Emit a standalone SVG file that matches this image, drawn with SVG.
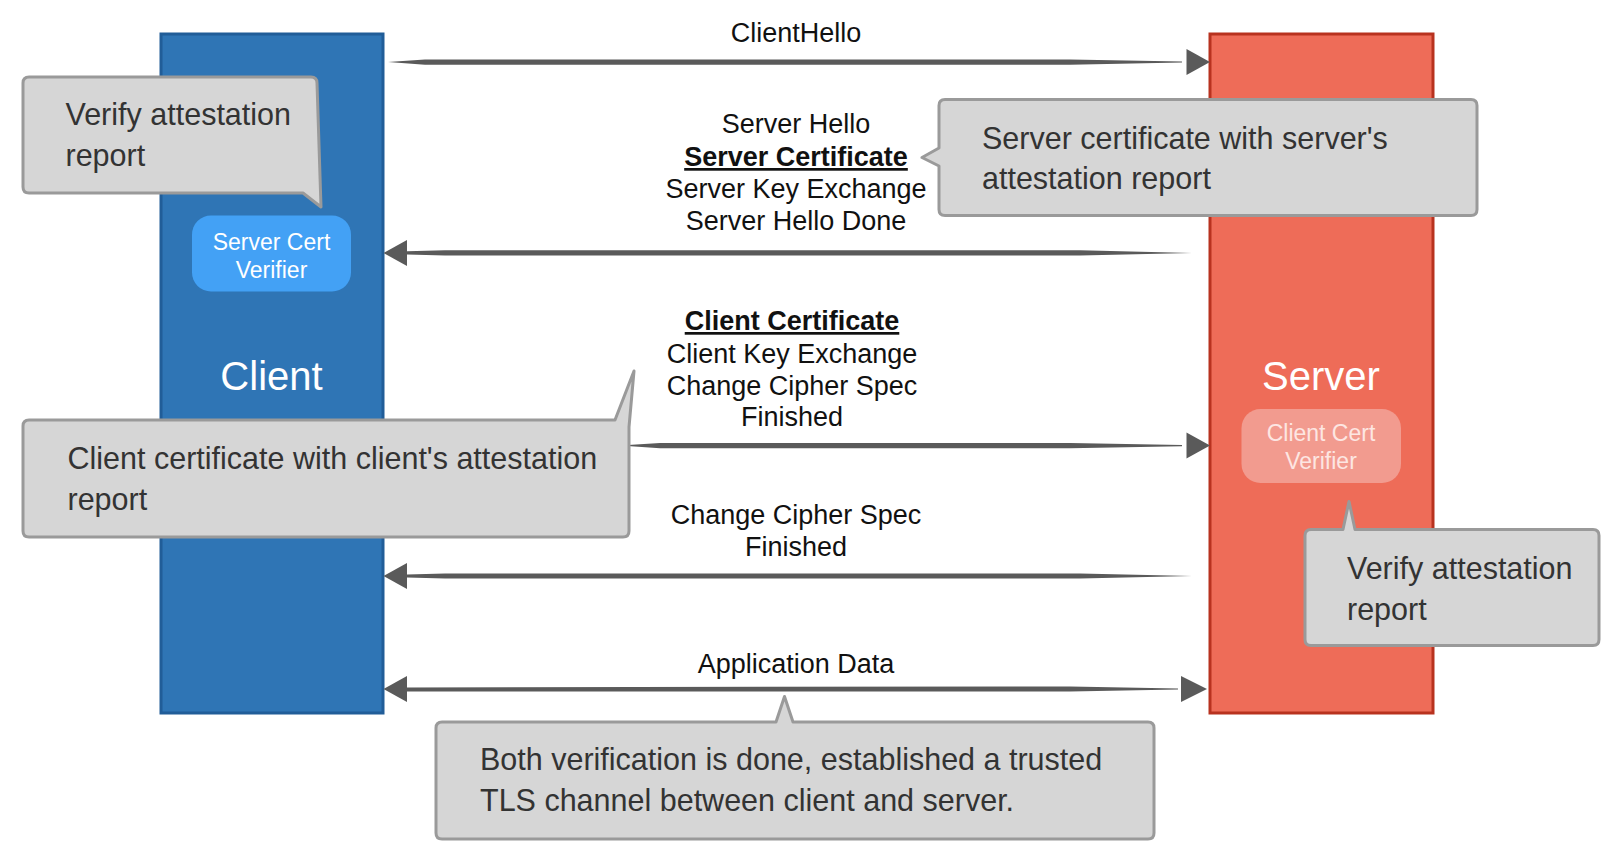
<svg xmlns="http://www.w3.org/2000/svg" width="1622" height="852" viewBox="0 0 1622 852">
<defs>
<style>
.msg{font-family:"Liberation Sans",Arial,sans-serif;font-size:27px;fill:#111;text-anchor:middle}
.bold{font-weight:bold;text-decoration:underline}
.note{font-family:"Liberation Sans",Arial,sans-serif;font-size:30.5px;fill:#333}
.callout{fill:#d6d6d6;stroke:#9a9a9a;stroke-width:3;stroke-linejoin:round}
.arrow{fill:#5a5a5a}
.title{font-family:"Liberation Sans",Arial,sans-serif;font-size:40px;fill:#fff;text-anchor:middle}
.vtext{font-family:"Liberation Sans",Arial,sans-serif;font-size:23px;text-anchor:middle}
</style>
</defs>
<rect width="1622" height="852" fill="#fff"/>
<g id="client">
<rect x="161" y="34" width="222" height="679" fill="#2f75b5" stroke="#215d98" stroke-width="3"/>
<text class="title" x="271.5" y="389.5">Client</text>
</g>
<g id="server">
<rect x="1210" y="34" width="223" height="679" fill="#ee6c58" stroke="#b8321f" stroke-width="3"/>
<text class="title" x="1321" y="389.5">Server</text>
</g>
<g id="server-cert-verifier">
<rect x="192" y="215.5" width="159" height="76" rx="19" fill="#43a1f5"/>
<text class="vtext" x="271.5" y="249.5" fill="#fff">Server Cert</text>
<text class="vtext" x="271.5" y="277.5" fill="#fff">Verifier</text>
</g>
<g id="client-cert-verifier">
<rect x="1241.5" y="409" width="159.5" height="74" rx="19" fill="#f29b8f"/>
<text class="vtext" x="1321" y="441" fill="#fde6e2">Client Cert</text>
<text class="vtext" x="1321" y="469" fill="#fde6e2">Verifier</text>
</g>
<g id="connectors">
<path class="arrow" d="M388,62 L425,59.5 L1070,59.5 L1182,61.4 L1182,62.6 L1070,64.8 L425,64.8 Z"/>
<path class="arrow" d="M1186.5,49 L1210,62 L1186.5,75 Z"/>
<path class="arrow" d="M1192,253 L1080,250.3 L445,250.3 L407,251.3 L407,254.5 L445,255.5 L1080,255.5 Z"/>
<path class="arrow" d="M383.5,253 L407,240 L407,266 Z"/>
<path class="arrow" d="M620,445.6 L660,443 L1070,443 L1182,445 L1182,446.2 L1070,448.3 L660,448.3 Z"/>
<path class="arrow" d="M1186.5,432.6 L1210,445.6 L1186.5,458.6 Z"/>
<path class="arrow" d="M1192,576 L1080,573.4 L445,573.4 L407,574.4 L407,577.6 L445,578.6 L1080,578.6 Z"/>
<path class="arrow" d="M383.5,576 L407,563 L407,589 Z"/>
<path class="arrow" d="M407,687.4 L1070,686.4 L1178,688.4 L1178,689.6 L1070,691.6 L407,691.6 Z"/>
<path class="arrow" d="M383.5,689 L407,676 L407,702 Z"/>
<path class="arrow" d="M1181,676 L1207,689 L1181,702 Z"/>
</g>
<g id="labels">
<text class="msg" x="796" y="41.5">ClientHello</text>
<text class="msg" x="796" y="133">Server Hello</text>
<text class="msg bold" x="796" y="166">Server Certificate</text>
<text class="msg" x="796" y="198">Server Key Exchange</text>
<text class="msg" x="796" y="230">Server Hello Done</text>
<text class="msg bold" x="792" y="330">Client Certificate</text>
<text class="msg" x="792" y="363">Client Key Exchange</text>
<text class="msg" x="792" y="395">Change Cipher Spec</text>
<text class="msg" x="792" y="426">Finished</text>
<text class="msg" x="796" y="523.5">Change Cipher Spec</text>
<text class="msg" x="796" y="555.5">Finished</text>
<text class="msg" x="796" y="672.5">Application Data</text>
</g>
<g id="note-client-verify">
<path class="callout" d="M29,77 H311 Q317,77 317,83 L321,207 L303,193 H29 Q23,193 23,187 V83 Q23,77 29,77 Z"/>
<text class="note" x="65.5" y="124.5">Verify attestation</text>
<text class="note" x="65.5" y="166">report</text>
</g>
<g id="note-server-cert">
<path class="callout" d="M945,99.5 H1471 Q1477,99.5 1477,105.5 V209.5 Q1477,215.5 1471,215.5 H945 Q939,215.5 939,209.5 V166 L922,157.5 L939,148 V105.5 Q939,99.5 945,99.5 Z"/>
<text class="note" x="982" y="148.5">Server certificate with server's</text>
<text class="note" x="982" y="189">attestation report</text>
</g>
<g id="note-client-cert">
<path class="callout" d="M29,420 H615 L634,371 L629,427 V531 Q629,537 623,537 H29 Q23,537 23,531 V426 Q23,420 29,420 Z"/>
<text class="note" x="67.5" y="468.5">Client certificate with client's attestation</text>
<text class="note" x="67.5" y="510">report</text>
</g>
<g id="note-server-verify">
<path class="callout" d="M1311,529.5 H1343 L1349,501.5 L1355,529.5 H1593 Q1599,529.5 1599,535.5 V639.5 Q1599,645.5 1593,645.5 H1311 Q1305,645.5 1305,639.5 V535.5 Q1305,529.5 1311,529.5 Z"/>
<text class="note" x="1347" y="578.5">Verify attestation</text>
<text class="note" x="1347" y="620">report</text>
</g>
<g id="note-tls">
<path class="callout" d="M442,722 H776 L784.5,696.5 L793,722 H1148 Q1154,722 1154,728 V833 Q1154,839 1148,839 H442 Q436,839 436,833 V728 Q436,722 442,722 Z"/>
<text class="note" x="480" y="770">Both verification is done, established a trusted</text>
<text class="note" x="480" y="810.5">TLS channel between client and server.</text>
</g>
</svg>
